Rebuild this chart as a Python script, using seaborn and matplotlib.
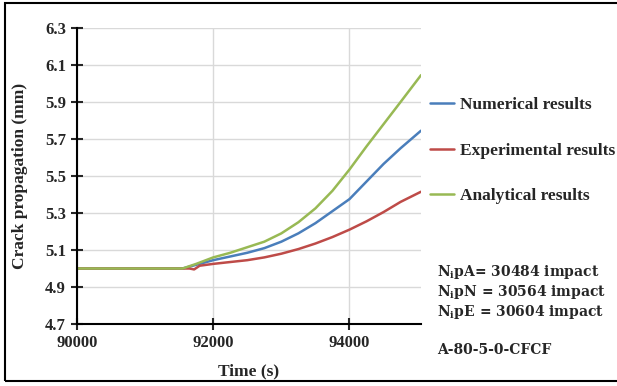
import pandas as pd
import seaborn as sns
from matplotlib import pyplot as plt
from matplotlib.patches import Rectangle

sns.set_style("ticks")
plt.rcParams["font.family"] = ["Liberation Serif", "DejaVu Serif"]
plt.rcParams["font.weight"] = "bold"
plt.rcParams["mathtext.fontset"] = "custom"
plt.rcParams["mathtext.rm"] = "DejaVu Serif"
plt.rcParams["mathtext.bf"] = "DejaVu Serif:bold"

# values
num_time = [90000, 91550, 91750, 92000, 92250, 92500, 92750, 93000, 93250,
            93500, 93750, 94000, 94250, 94500, 94750, 95050]
num_crack = [5.0, 5.0, 5.02, 5.045, 5.065, 5.085, 5.11, 5.145, 5.19,
             5.245, 5.31, 5.375, 5.47, 5.565, 5.65, 5.745]

exp_time = [90000, 91650, 91720, 91800, 92000, 92250, 92500, 92750, 93000,
            93250, 93500, 93750, 94000, 94250, 94500, 94750, 95050]
exp_crack = [5.0, 5.0, 4.995, 5.015, 5.025, 5.035, 5.045, 5.06, 5.08,
             5.105, 5.135, 5.17, 5.21, 5.255, 5.305, 5.36, 5.415]

ana_time = [90000, 91550, 91750, 92000, 92250, 92500, 92750, 93000, 93250,
            93500, 93750, 94000, 94250, 94500, 94750, 95050]
ana_crack = [5.0, 5.0, 5.025, 5.06, 5.085, 5.115, 5.145, 5.19, 5.25,
             5.325, 5.42, 5.535, 5.66, 5.78, 5.9, 6.045]

series_names = ["Numerical results", "Experimental results", "Analytical results"]
series_colors = ["#4A7EBB", "#BE4B48", "#98B954"]

x_ticks = [90000, 92000, 94000]
y_ticks = [4.7, 4.9, 5.1, 5.3, 5.5, 5.7, 5.9, 6.1, 6.3]

notes = [
    r"N$_\mathbf{i}$pA= 30484 impact",
    r"N$_\mathbf{i}$pN = 30564 impact",
    r"N$_\mathbf{i}$pE = 30604 impact",
]
specimen = "A-80-5-0-CFCF"

DF = pd.concat([
    pd.DataFrame({"time": num_time, "crack": num_crack, "series": series_names[0]}),
    pd.DataFrame({"time": exp_time, "crack": exp_crack, "series": series_names[1]}),
    pd.DataFrame({"time": ana_time, "crack": ana_crack, "series": series_names[2]}),
])

fig = plt.figure(figsize=(6.17, 3.86), dpi=100)
ax = fig.add_axes([77 / 617, 1 - 324 / 386, (421 - 77) / 617, (324 - 28) / 386])

sns.lineplot(
    data=DF, x="time", y="crack", hue="series", hue_order=series_names,
    palette=dict(zip(series_names, series_colors)), linewidth=1.8, ax=ax,
    estimator=None, sort=False,
)

ax.set_xlim(90000, 95050)
ax.set_ylim(4.7, 6.3)
ax.set_xticks(x_ticks)
ax.set_yticks(y_ticks)
ax.set_yticklabels([f"{v:.1f}" for v in y_ticks])
ax.grid(True, color="#D9D9D9", linewidth=1)
ax.set_axisbelow(True)
sns.despine(ax=ax)
plt.setp(ax.spines.values(), linewidth=1.5, color="black")
ax.tick_params(axis="both", direction="inout", length=8, width=1.5,
               labelsize=12, pad=4)
for lab in ax.get_xticklabels() + ax.get_yticklabels():
    lab.set_fontweight("bold")

ax.set_xlabel("Time (s)", fontsize=12.5, fontweight="bold", labelpad=9)
ax.set_ylabel("Crack propagation (mm)", fontsize=12.5, fontweight="bold", labelpad=12)

ax.legend(
    loc="upper left", bbox_to_anchor=(430 / 617, 1 - 97 / 386),
    bbox_transform=fig.transFigure, frameon=False, borderpad=0,
    borderaxespad=0, handlelength=1.4, handletextpad=0.3, labelspacing=1.7,
    prop={"family": "Liberation Serif", "weight": "bold", "size": 12.5},
)

for i, t in enumerate(notes):
    fig.text(437 / 617, 1 - (272 + 20 * i) / 386, t, fontsize=10,
             fontweight="bold", va="center", ha="left", family="DejaVu Serif")
fig.text(437 / 617, 1 - 350 / 386, specimen, fontsize=10, fontweight="bold",
         va="center", ha="left", family="DejaVu Serif")

fig.patches.append(Rectangle((5 / 617, 5 / 386), 1.2, 378 / 386, fill=False,
                             edgecolor="black", linewidth=1.5,
                             transform=fig.transFigure, figure=fig))

plt.savefig("out.png", dpi=100)
